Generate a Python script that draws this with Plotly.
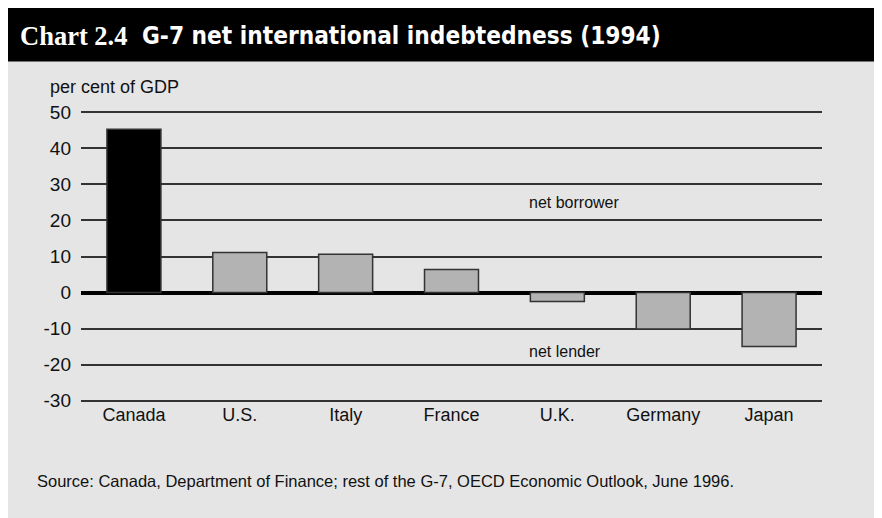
import plotly.graph_objects as go

countries = ["Canada", "U.S.", "Italy", "France", "U.K.", "Germany", "Japan"]
values = [45.3, 11.1, 10.6, 6.4, -2.5, -10.1, -15.0]
bar_colors = ["#000000", "#b3b3b3", "#b3b3b3", "#b3b3b3", "#b3b3b3", "#b3b3b3", "#b3b3b3"]
tick_vals = [-30, -20, -10, 0, 10, 20, 30, 40, 50]
tick_text = ["-30", "-20", "-10", "0", "10", "20", "30", "40", "50"]

OFF = 8  # page body margin
W, H = 882, 510
PAD = 0.4  # range padding so edge gridlines are drawn
UNIT = 3.6  # px per unit
L = 81 - OFF
R = W - (822 - OFF)
T = 112 - PAD * UNIT - OFF
B = H - (400.5 + PAD * UNIT - OFF)
pw, ph = W - L - R, H - T - B

def px(x):
    return (x - OFF - L) / pw

def py(y):
    return 1 - (y - OFF - T) / ph

SANS = "Liberation Sans, Arial, sans-serif"
NARROW = "Liberation Sans Narrow, Arial Narrow, DejaVu Sans Condensed, sans-serif"

fig = go.Figure()
fig.add_trace(go.Bar(
    x=countries, y=values,
    marker=dict(color=bar_colors, line=dict(color="#333333", width=1.5)),
    width=0.51,
))

shapes = [
    dict(type="rect", xref="paper", yref="paper", x0=px(0), x1=px(W + 40), y0=py(OFF - 2), y1=py(61),
         fillcolor="#000000", line=dict(width=0), layer="below"),
]

annotations = [
    dict(text="<b>Chart 2.4</b>", xref="paper", yref="paper", x=px(18), y=py(35),
         xanchor="left", yanchor="middle", showarrow=False,
         font=dict(family="Liberation Serif, Times New Roman, serif", size=26.5, color="white")),
    dict(text="<b>G-7 net international indebtedness (1994)</b>", xref="paper", yref="paper",
         x=px(140), y=py(35), xanchor="left", yanchor="middle", showarrow=False,
         font=dict(family=NARROW, size=24.2, color="white")),
    dict(text="per cent of GDP", xref="paper", yref="paper", x=px(48), y=py(87),
         xanchor="left", yanchor="middle", showarrow=False,
         font=dict(family=SANS, size=18, color="#111111")),
    dict(text="net borrower", xref="paper", yref="y", x=px(527), y=25,
         xanchor="left", yanchor="middle", showarrow=False,
         font=dict(family=SANS, size=16, color="#111111")),
    dict(text="net lender", xref="paper", yref="y", x=px(527), y=-16.4,
         xanchor="left", yanchor="middle", showarrow=False,
         font=dict(family=SANS, size=16, color="#111111")),
    dict(text="Source: Canada, Department of Finance; rest of the G-7, OECD Economic Outlook, June 1996.",
         xref="paper", yref="paper", x=px(35), y=py(481), xanchor="left", yanchor="middle",
         showarrow=False, font=dict(family=SANS, size=16.5, color="#111111")),
]

fig.update_layout(
    width=W, height=H,
    margin=dict(l=L, r=R, t=T, b=B, pad=0),
    paper_bgcolor="#e5e5e5", plot_bgcolor="#e5e5e5",
    showlegend=False,
    shapes=shapes, annotations=annotations,
    bargap=0.49,
    font=dict(family=SANS, size=18, color="#111111"),
)
fig.update_xaxes(showgrid=False, showline=False, zeroline=False, ticks="",
                 tickfont=dict(size=18), ticklabelstandoff=0, fixedrange=True)
fig.update_yaxes(range=[-30 - PAD, 50 + PAD], tickvals=tick_vals, ticktext=tick_text,
                 showgrid=True, gridcolor="#333333", gridwidth=1.5,
                 zeroline=True, zerolinecolor="#000000", zerolinewidth=3.5,
                 showline=False, ticks="", ticklabelstandoff=9,
                 tickfont=dict(size=19), fixedrange=True)

fig.write_html("out.html")
